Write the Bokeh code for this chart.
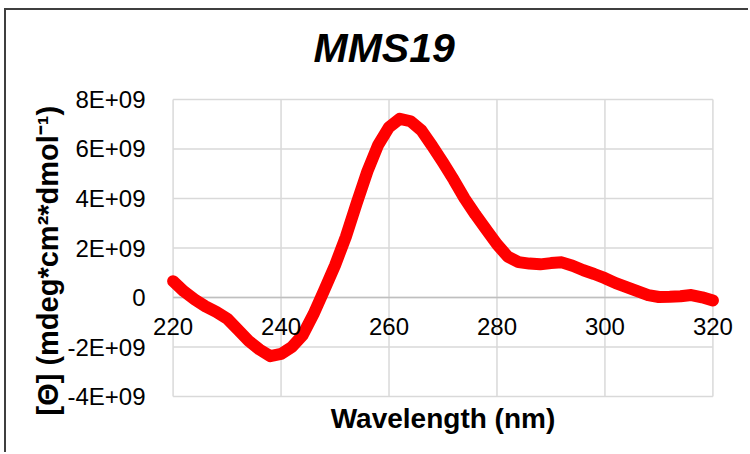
from bokeh.plotting import figure
from bokeh.models import Range1d, FixedTicker, Label, LinearAxis, Title
from bokeh.embed import file_html
from bokeh.resources import INLINE

# ---- data ----
wavelength = [220, 222, 224, 226, 228, 230, 232, 234, 236, 238,
              240, 242, 244, 246, 248, 250, 252, 254, 256, 258,
              260, 262, 264, 266, 268, 270, 272, 274, 276, 278,
              280, 282, 284, 286, 288, 290, 292, 294, 296, 298,
              300, 302, 304, 306, 308, 310, 312, 314, 316, 318, 320]
ellipticity_e9 = [0.66, 0.25, -0.08, -0.36, -0.58, -0.85, -1.30, -1.75, -2.10, -2.37,
                  -2.28, -2.00, -1.52, -0.68, 0.30, 1.30, 2.45, 3.80, 5.10, 6.17,
                  6.88, 7.22, 7.12, 6.75, 6.12, 5.45, 4.75, 4.00, 3.35, 2.75,
                  2.15, 1.65, 1.43, 1.37, 1.34, 1.39, 1.42, 1.28, 1.10, 0.95,
                  0.78, 0.58, 0.42, 0.26, 0.10, 0.02, 0.03, 0.05, 0.10, 0.01, -0.12]
ellipticity = [v * 1e9 for v in ellipticity_e9]

x_ticks = [220, 240, 260, 280, 300, 320]
x_tick_labels = ["220", "240", "260", "280", "300", "320"]
y_ticks = [-4000000000, -2000000000, 0, 2000000000, 4000000000, 6000000000, 8000000000]
y_tick_labels = ["-4E+09", "-2E+09", "0", "2E+09", "4E+09", "6E+09", "8E+09"]

title_text = "MMS19"
x_title = "Wavelength (nm)"
y_title = "[\u0398] (mdeg*cm\u00b2*dmol\u207b\u00b9)"

FONT = "Liberation Sans"
GRID = "#d9d9d9"

# frame is a little wider/taller than the chart area so that the tick labels
# at the ends and the grid edges are not clipped
x_pad = 4
y_pad = 0.08e9

p = figure(width=744, height=444,
           x_range=Range1d(x_ticks[0] - x_pad, x_ticks[-1] + x_pad),
           y_range=Range1d(y_ticks[0] - y_pad, y_ticks[-1] + y_pad),
           output_backend="svg", toolbar_location=None,
           min_border_left=145, min_border_right=16,
           min_border_top=87, min_border_bottom=56,
           background_fill_color="white", border_fill_color="white",
           outline_line_color=None,
           styles={"margin-left": "4px", "margin-top": "8px",
                   "border-left": "2px solid #3f3f3f",
                   "border-top": "2px solid #3f3f3f"})

# x axis below: only the title; tick labels sit at y = 0 like Excel
xax = p.below[0]
xax.ticker = FixedTicker(ticks=[])
xax.axis_line_color = None
xax.major_tick_line_color = None
xax.minor_tick_line_color = None
xax.axis_label = x_title
xax.axis_label_text_font = FONT
xax.axis_label_text_font_size = "28px"
xax.axis_label_text_font_style = "bold"
xax.axis_label_text_color = "black"
xax.axis_label_standoff = 4

# invisible spacer axis between the frame and the chart title
spacer = LinearAxis(ticker=FixedTicker(ticks=[x_ticks[0]]),
                    axis_line_color=None, major_tick_line_color=None,
                    minor_tick_line_color=None, major_tick_in=0,
                    major_tick_out=27, major_label_text_color=None,
                    major_label_standoff=0)
p.add_layout(spacer, "above")

# chart title
p.title.text = title_text
p.title.align = "left"
p.title.offset = 162
p.title.text_font = FONT
p.title.text_font_size = "41px"
p.title.text_font_style = "bold italic"
p.title.text_color = "black"
p.title.standoff = 0

p.grid.visible = False

# gridlines limited to the chart area
p.segment(x0=[x_ticks[0]] * len(y_ticks), x1=[x_ticks[-1]] * len(y_ticks),
          y0=y_ticks, y1=y_ticks, line_color=GRID, line_width=1.5)
p.segment(x0=x_ticks, x1=x_ticks,
          y0=[y_ticks[0]] * len(x_ticks), y1=[y_ticks[-1]] * len(x_ticks),
          line_color=GRID, line_width=1.5)
# horizontal axis line at zero
p.segment(x0=[x_ticks[0]], x1=[x_ticks[-1]], y0=[0], y1=[0],
          line_color="#bfbfbf", line_width=1.5)

# y axis (tick labels only); its title is a side title so it can be shifted
yax = p.left[0]
yax.ticker = FixedTicker(ticks=y_ticks)
yax.major_label_overrides = dict(zip(y_ticks, y_tick_labels))
yax.major_label_text_font = FONT
yax.major_label_text_font_size = "24px"
yax.major_label_text_color = "black"
yax.major_label_standoff = 0
yax.axis_line_color = None
yax.major_tick_line_color = None
yax.minor_tick_line_color = None

p.add_layout(Title(text=y_title, align="left", offset=-17, standoff=2,
                   text_font=FONT, text_font_size="29px", text_font_style="bold",
                   text_color="black"), "left")

# the CD curve
p.line(wavelength, ellipticity, line_color="#ff0000", line_width=12,
       line_join="round", line_cap="round")

# x tick labels at y = 0
for xv, lab in zip(x_ticks, x_tick_labels):
    p.add_layout(Label(x=xv, y=0, text=lab,
                       text_align="center", text_baseline="top", y_offset=-20,
                       text_font=FONT, text_font_size="24px", text_color="black"))

open("out.html", "w").write(file_html(p, INLINE))
